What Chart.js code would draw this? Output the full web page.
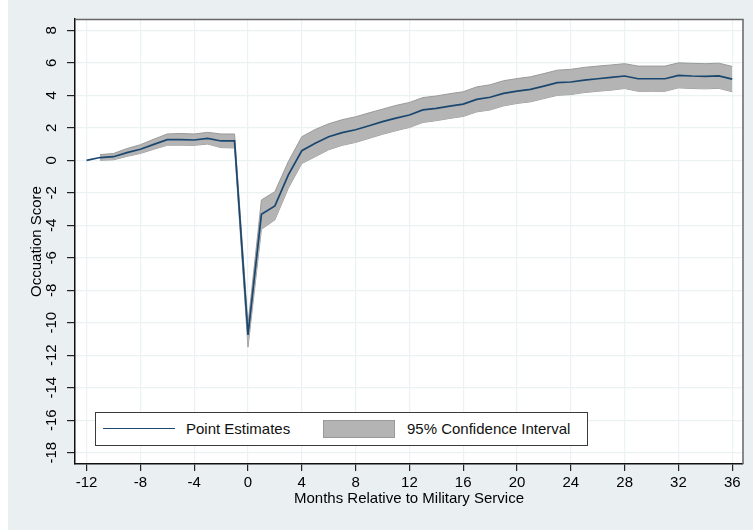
<!DOCTYPE html>
<html>
<head>
<meta charset="UTF-8">
<title>Occuation Score</title>
<script src="https://cdn.jsdelivr.net/npm/chart.js@4.4.1/dist/chart.umd.min.js"></script>
<style>
  html, body { margin: 0; padding: 0; background: #fff; }
  #wrap { position: relative; width: 753px; height: 531px; }
  #chart { position: absolute; left: 0; top: 0; }
  .legend {
    position: absolute; left: 95px; top: 412px; width: 491px; height: 32px;
    background: #fff; border: 1.5px solid #3a3a3a;
    font-family: 'Liberation Sans', Arial, Helvetica, sans-serif; font-size: 15px; color: #111;
  }
  .legend .ln { position: absolute; left: 7px; top: 15px; width: 72px; height: 0; border-top: 1.7px solid #1a476f; }
  .legend .t1 { position: absolute; left: 90px; top: 7px; }
  .legend .sw { position: absolute; left: 227px; top: 7px; width: 70px; height: 16px; background: #b4b4b4; border: 1px solid #9a9a9a; }
  .legend .t2 { position: absolute; left: 311px; top: 7px; }
</style>
</head>
<body>
<div id="wrap">
  <canvas id="chart" width="753" height="531"></canvas>
  <div class="legend">
    <div class="ln"></div><span class="t1">Point Estimates</span>
    <div class="sw"></div><span class="t2">95% Confidence Interval</span>
  </div>
</div>
<script>
// months relative to service
var months = [-12,-11,-10,-9,-8,-7,-6,-5,-4,-3,-2,-1,0,1,2,3,4,5,6,7,8,9,10,11,12,
  13,14,15,16,17,18,19,20,21,22,23,24,25,26,27,28,29,30,31,32,33,34,35,36]
// point estimates
var est = [0,0.17,0.22,0.47,0.68,0.98,1.27,1.27,1.25,1.35,1.19,1.19,-10.75,-3.32,-2.81,-0.9,0.59,1.05,1.45,1.7,1.88,
  2.13,2.38,2.6,2.79,3.1,3.2,3.34,3.46,3.75,3.88,4.12,4.26,4.37,4.57,4.78,4.82,4.94,5.02,5.1,5.19,
  5.02,5.02,5.02,5.23,5.19,5.17,5.2,5.0]
// 95% CI bounds
var ciHigh = [null,0.35,0.42,0.72,0.96,1.3,1.62,1.65,1.62,1.72,1.62,1.62,-10.1,-2.44,-1.93,-0.08,1.45,1.9,2.25,2.5,2.68,
  2.92,3.15,3.38,3.56,3.86,3.96,4.1,4.22,4.52,4.65,4.9,5.03,5.14,5.34,5.55,5.6,5.72,5.8,5.87,5.95,
  5.8,5.8,5.8,6.0,5.97,5.95,5.98,5.78]
var ciLow = [null,0.0,0.03,0.24,0.42,0.68,0.93,0.93,0.92,1.0,0.78,0.76,-11.5,-4.25,-3.67,-1.72,-0.2,0.22,0.65,0.92,1.1,
  1.35,1.6,1.82,2.02,2.33,2.44,2.58,2.7,2.98,3.1,3.35,3.5,3.6,3.8,4.0,4.05,4.17,4.25,4.32,4.42,
  4.25,4.25,4.25,4.46,4.42,4.4,4.43,4.22]
var xTicks = [-12,-8,-4,0,4,8,12,16,20,24,28,32,36]
var yTicks = [-18,-16,-14,-12,-10,-8,-6,-4,-2,0,2,4,6,8]

var pts = function(arr) {
  return months.map(function(m, i) { return {x: m, y: arr[i]} })
}

Chart.defaults.font.family = "'Liberation Sans', Arial, Helvetica, sans-serif"
Chart.defaults.font.size = 15
Chart.defaults.color = '#111'

var bgPlugin = {
  id: 'bg',
  beforeDraw: function(chart) {
    var c = chart.ctx, a = chart.chartArea
    c.save()
    c.fillStyle = '#fff'
    c.fillRect(0, 0, chart.width, chart.height)
    c.fillStyle = '#eaeff2'
    c.fillRect(8, 0, chart.width - 8, chart.height - 1)
    c.fillStyle = '#fff'
    c.fillRect(a.left, a.top, a.right - a.left, a.bottom - a.top)
    c.restore()
  },
  afterDraw: function(chart) {
    var c = chart.ctx, a = chart.chartArea
    c.save()
    c.strokeStyle = '#666'
    c.lineWidth = 1.5
    c.beginPath()
    c.moveTo(a.left, a.top + 0.5)
    c.lineTo(a.right, a.top + 0.5)
    c.lineTo(a.right, a.bottom)
    c.stroke()
    c.restore()
  }
}

var ctx = document.getElementById('chart').getContext('2d')
var chart = new Chart(ctx, {
  type: 'line',
  data: {
    datasets: [{
      label: 'Point Estimates',
      data: pts(est),
      borderColor: '#1a476f',
      borderWidth: 1.7,
      fill: false,
      order: 0
    }, {
      label: 'CI high',
      data: pts(ciHigh),
      borderColor: '#9a9a9a',
      borderWidth: 1,
      backgroundColor: '#b4b4b4',
      fill: '+1',
      order: 1
    }, {
      label: 'CI low',
      data: pts(ciLow),
      borderColor: '#9a9a9a',
      borderWidth: 1,
      fill: false,
      order: 2
    }]
  },
  options: {
    responsive: false,
    animation: false,
    devicePixelRatio: 1,
    elements: { point: { radius: 0 }, line: { tension: 0 } },
    layout: { padding: { left: 8, top: 19, right: 10, bottom: 0 } },
    plugins: { legend: { display: false }, tooltip: { enabled: false } },
    scales: {
      x: {
        type: 'linear',
        min: -12.86,
        max: 36.8,
        afterBuildTicks: function(s) { s.ticks = xTicks.map(function(v) { return {value: v} }) },
        afterFit: function(s) { s.height = 67 },
        grid: { color: '#eaf2f3', lineWidth: 1.2, tickColor: '#222', tickLength: 7, tickWidth: 1.2 },
        border: { display: true, color: '#111', width: 1.5 },
        ticks: { autoSkip: false, maxRotation: 0, padding: 3, color: '#000' },
        title: {
          display: true, text: 'Months Relative to Military Service',
          color: '#000', padding: { top: 0, bottom: 23 }
        }
      },
      y: {
        min: -18.7,
        max: 8.7,
        afterBuildTicks: function(s) { s.ticks = yTicks.map(function(v) { return {value: v} }) },
        afterFit: function(s) { s.width = 67 },
        grid: { color: '#eaf2f3', lineWidth: 1.2, tickColor: '#222', tickLength: 8, tickWidth: 1.2 },
        border: { display: true, color: '#111', width: 1.5 },
        ticks: { autoSkip: false, minRotation: 90, maxRotation: 90, crossAlign: 'center', padding: 4, color: '#000' },
        title: {
          display: true, text: 'Occuation Score',
          color: '#000', padding: { top: 20, bottom: 0 }
        }
      }
    }
  },
  plugins: [bgPlugin]
})
</script>
</body>
</html>
